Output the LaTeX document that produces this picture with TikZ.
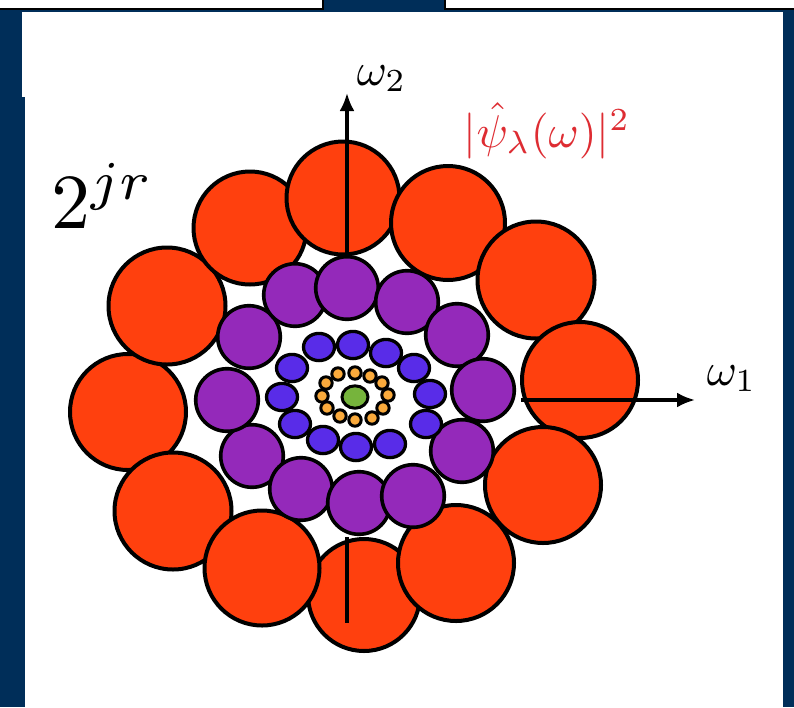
\documentclass[tikz,border=0pt]{standalone}
\usetikzlibrary{arrows.meta}

\definecolor{navyBg}{RGB}{0,46,89}
\definecolor{redFill}{RGB}{255,64,14}
\definecolor{purpleFill}{RGB}{148,41,186}
\definecolor{blueFill}{RGB}{89,44,232}
\definecolor{orangeFill}{RGB}{250,170,60}
\definecolor{greenFill}{RGB}{118,180,60}
\definecolor{labelRed}{RGB}{222,44,50}

\tikzset{
  axis/.style={line width=3.2pt, -{Latex[length=18pt,width=15pt]}},
  bigmath/.style={anchor=base west, inner sep=0pt, scale=#1},
}

\begin{document}
\begin{tikzpicture}[x=1pt,y=-1pt]
        % hintergrund a ramecek
        \fill[navyBg] (0,0) rectangle (794,707);
        \useasboundingbox (0,0) rectangle (794,707);
        \filldraw[fill=white, draw=black, line width=1.5pt] (-3,-3) rectangle (323,9);
        \filldraw[fill=white, draw=black, line width=1.5pt] (445,-3) rectangle (797,9);
        \fill[white] (25,12) rectangle (783,707);
        \fill[white] (22,12) rectangle (26,97);

        % vnejsi kruh (cervene)
        \foreach \x/\y/\r in {364/595/58, 128/412/60, 167/306/60.5, 250/228/58.5,
                              343/198/58.5, 448/223/59, 536/280/60.5, 580/380/60,
                              543/485/60, 456/563/60, 173/511/60.5, 262/568/59.5}
            \filldraw[fill=redFill, draw=black, line width=4pt] (\x,\y) circle (\r-2);

        % osy
        \coordinate (vin) at (347,255);
        \coordinate (vtop) at (347,93);
        \coordinate (vout) at (347,537);
        \coordinate (vbot) at (347,623);
        \coordinate (hin) at (521,400);
        \coordinate (hend) at (695,400);
        \draw[axis] (vin) -- (vtop);
        \draw[line width=3.2pt] (vout) -- (vbot);
        \draw[axis] (hin) -- (hend);

        % fialove
        \foreach \x/\y in {252/456, 227/400, 249/337, 295/295, 347/288, 407/302,
                           457/335, 483/390, 462/451, 301/489, 359/503, 413/496}
            \filldraw[fill=purpleFill, draw=black, line width=3.6pt] (\x,\y) circle (31.3);

        % modre
        \foreach \x/\y in {319/347, 353/345, 386/353, 414/368, 430/394, 426/424,
                           390/444, 356/447, 323/440, 295/424, 282/397, 292/368}
            \filldraw[fill=blueFill, draw=black, line width=3.3pt]
                (\x,\y) ellipse [x radius=15.5, y radius=13.6];

        % oranzove
        \foreach \x/\y in {338/374, 355/373, 370/376, 382/383, 388/395, 383/408,
                           372/418, 355/420, 340/416, 327/408, 322/396, 326/383}
            \filldraw[fill=orangeFill, draw=black, line width=3pt] (\x,\y) circle (6.2);

        % stred
        \filldraw[fill=greenFill, draw=black, line width=3pt]
            (355,397) ellipse [x radius=13, y radius=11.2];

        % popisky
        \node[bigmath=4.6] (w2) at (356,85) {$\omega_2$};
        \node[bigmath=4.6] (w1) at (706,385) {$\omega_1$};
        \node[bigmath=4.6, text=labelRed] (psi) at (463,147) {$|\hat{\psi}_\lambda(\omega)|^2$};
        \node[bigmath=7.8] (scale) at (50,228) {$2^{jr}$};
    \end{tikzpicture}
\end{document}
